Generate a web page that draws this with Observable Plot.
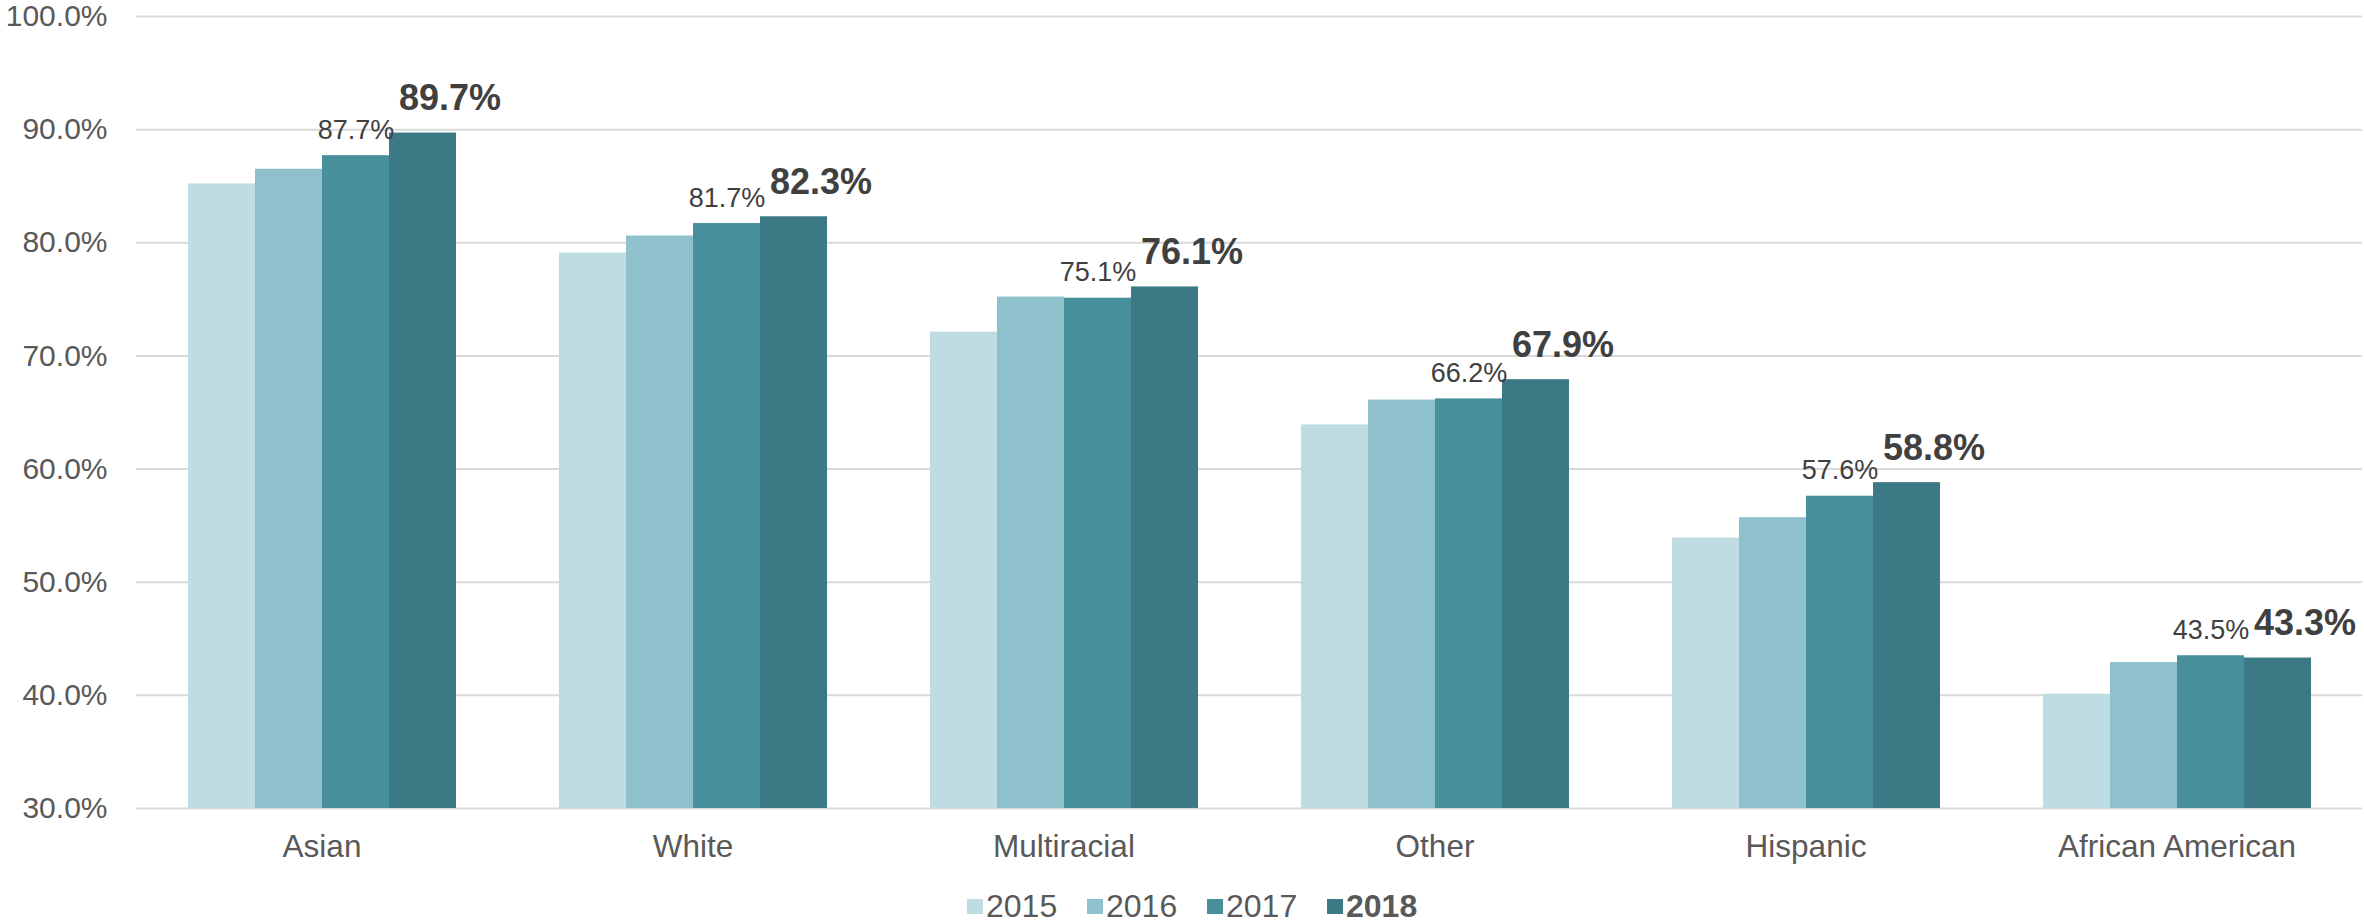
<!DOCTYPE html>
<html>
<head>
<meta charset="utf-8">
<script src="https://cdn.jsdelivr.net/npm/d3@7"></script>
<script src="https://cdn.jsdelivr.net/npm/@observablehq/plot@0.6"></script>
<style>
  html, body { margin: 0; padding: 0; background: #fff; overflow: hidden; }
  body { font-family: "Liberation Sans", Arial, sans-serif; width: 2364px; height: 921px; position: relative; }
  #legend { position: absolute; left: 967px; top: 886px; height: 40px; display: flex; align-items: center; font-size: 32px; color: #595959; }
  .item { display: flex; align-items: center; width: 120px; }
  .item:last-child { width: auto; }
  .sw { width: 16px; height: 15px; margin-right: 3px; flex: none; }
</style>
</head>
<body>
<div id="chart"></div>
<div id="legend"></div>
<script>
const categories = ["Asian", "White", "Multiracial", "Other", "Hispanic", "African American"];
const years = ["2015", "2016", "2017", "2018"];
const v2015 = [85.2, 79.1, 72.1, 63.9, 53.9, 40.1];
const v2016 = [86.5, 80.6, 75.2, 66.1, 55.7, 42.9];
const v2017 = [87.7, 81.7, 75.1, 66.2, 57.6, 43.5];
const v2018 = [89.7, 82.3, 76.1, 67.9, 58.8, 43.3];
const yTicks = [30, 40, 50, 60, 70, 80, 90, 100];
const colors = ["#bedce1", "#8fc1cc", "#468f9b", "#3b7a84"];

const series = [v2015, v2016, v2017, v2018];
const data = [];
categories.forEach((c, i) => years.forEach((y, j) => data.push({category: c, year: y, value: series[j][i]})));
const fmt = d => d.toFixed(1) + "%";
const font = "'Liberation Sans', Arial, sans-serif";

const chart = Plot.plot({
  width: 2364,
  height: 885,
  marginLeft: 134,
  marginRight: 0,
  marginTop: 16,
  marginBottom: 77,
  style: {fontFamily: font, color: "#595959", background: "#fff"},
  fx: {domain: categories, padding: 0, axis: null},
  x: {domain: years, paddingInner: 0, paddingOuter: 0.745, axis: null},
  y: {domain: [30, 100], axis: null},
  color: {domain: years, range: colors},
  marks: [
    Plot.ruleY(yTicks, {stroke: "#d9d9d9", strokeWidth: 2}),
    Plot.rectY(data, {fx: "category", x: "year", y1: () => 30, y2: "value", fill: "year", insetLeft: 0, insetRight: 0}),
    Plot.axisY({ticks: yTicks, tickFormat: fmt, tickSize: 0, tickPadding: 29, fontSize: 30, label: null}),
    Plot.axisFx({anchor: "bottom", tickSize: 0, tickPadding: 26, fontSize: 31.5, label: null}),
    Plot.text(data.filter(d => d.year === "2017"), {fx: "category", x: "year", y: "value", text: d => fmt(d.value), lineAnchor: "bottom", dy: -17, fontSize: 27, fill: "#404040"}),
    Plot.text(data.filter(d => d.year === "2018"), {fx: "category", x: "year", y: "value", text: d => fmt(d.value), lineAnchor: "bottom", dy: -23, dx: 27, fontSize: 36, fontWeight: "bold", fill: "#404040"})
  ]
});
document.getElementById("chart").appendChild(chart);

const legend = document.getElementById("legend");
years.forEach((y, j) => {
  const item = document.createElement("div");
  item.className = "item";
  const sw = document.createElement("div");
  sw.className = "sw";
  sw.style.background = colors[j];
  const t = document.createElement("span");
  t.textContent = y;
  if (y === "2018") t.style.fontWeight = "bold";
  item.appendChild(sw);
  item.appendChild(t);
  legend.appendChild(item);
});
</script>
</body>
</html>
